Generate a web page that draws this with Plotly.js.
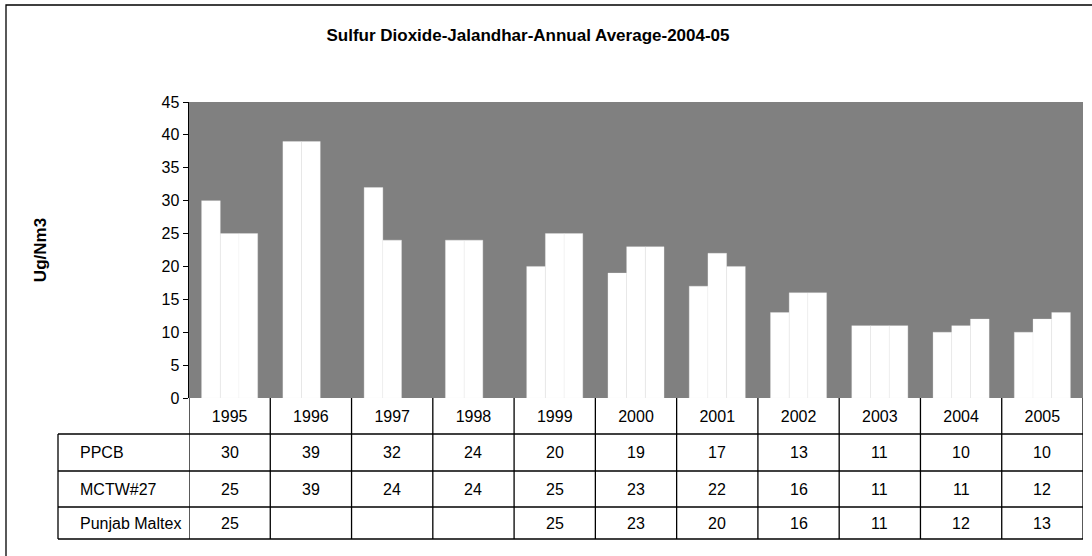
<!DOCTYPE html>
<html>
<head>
<meta charset="utf-8">
<script src="https://cdn.plot.ly/plotly-3.0.1.min.js"></script>
<style>html,body{margin:0;padding:0;background:#fff;}#chart{width:1092px;height:556px;}</style>
</head>
<body>
<div id="chart"></div>
<script>
const years = ["1995","1996","1997","1998","1999","2000","2001","2002","2003","2004","2005"];
const seriesNames = ["PPCB", "MCTW#27", "Punjab Maltex"];
const ppcb = [30, 39, 32, 24, 20, 19, 17, 13, 11, 10, 10];
const mctw = [25, 39, 24, 24, 25, 23, 22, 16, 11, 11, 12];
const punjab = [25, null, null, null, 25, 23, 20, 16, 11, 12, 13];
const seriesValues = [ppcb, mctw, punjab];

const FONT = "Arial, 'Liberation Sans', sans-serif";

const W = 1092, H = 556;
const mL = 189, mR = 9, mT = 102, mB = 158;
const plotW = W - mL - mR, plotH = H - mT - mB;
const axisY = H - mB;
function py(p) { return (axisY - p) / plotH; }
function px(p) { return (p - mL) / plotW; }
const rowLines = [434, 471, 507, 539];
const tableLeft = 58;

const traces = seriesNames.map((name, i) => ({
  type: 'bar',
  name: name,
  x: years,
  y: seriesValues[i],
  marker: {color: '#ffffff', line: {color: '#eeeeee', width: 0.3}},
  hoverinfo: 'x+y+name'
}));

const shapes = [];
for (let i = 0; i <= years.length; i++) {
  shapes.push({type: 'line', xref: 'x', yref: 'paper', x0: i - 0.5, x1: i - 0.5,
    y0: 0, y1: py(rowLines[rowLines.length - 1]), line: {color: '#000', width: 1.3}});
}
rowLines.forEach(r => {
  shapes.push({type: 'line', xref: 'paper', yref: 'paper', x0: px(tableLeft), x1: 1,
    y0: py(r), y1: py(r), line: {color: '#000', width: 1.3}});
});
shapes.push({type: 'line', xref: 'paper', yref: 'paper', x0: px(tableLeft), x1: px(tableLeft),
  y0: py(rowLines[0]), y1: py(rowLines[rowLines.length - 1]), line: {color: '#000', width: 1.3}});
shapes.push({type: 'rect', xref: 'paper', yref: 'paper', x0: px(6), x1: px(1100), y0: py(5), y1: py(570),
  line: {color: '#000', width: 1.3}, fillcolor: 'rgba(0,0,0,0)'});

const annotations = [];
seriesNames.forEach((name, r) => {
  const yc = py((rowLines[r] + rowLines[r + 1]) / 2);
  annotations.push({xref: 'paper', yref: 'paper', x: px(78), y: yc, xanchor: 'left', yanchor: 'middle',
    text: name, showarrow: false, font: {family: FONT, size: 16, color: '#000'}});
  seriesValues[r].forEach((v, c) => {
    if (v === null) return;
    annotations.push({xref: 'x', yref: 'paper', x: c, y: yc, xanchor: 'center', yanchor: 'middle',
      text: String(v), showarrow: false, font: {family: FONT, size: 16, color: '#000'}});
  });
});

const layout = {
  width: W, height: H,
  margin: {l: mL, r: mR, t: mT, b: mB, pad: 0},
  paper_bgcolor: '#ffffff',
  plot_bgcolor: '#808080',
  showlegend: false,
  barmode: 'group',
  bargap: 0.31,
  bargroupgap: 0,
  title: {text: '<b>Sulfur Dioxide-Jalandhar-Annual Average-2004-05</b>', x: 528 / W, xanchor: 'center',
    y: 1 - 35 / H, yanchor: 'middle', xref: 'container', yref: 'container',
    font: {family: FONT, size: 17, color: '#000'}},
  xaxis: {type: 'category', range: [-0.5, years.length - 0.5], showgrid: false, zeroline: false,
    showline: false, ticks: 'outside', ticklen: 4, tickcolor: 'rgba(0,0,0,0)',
    tickfont: {family: FONT, size: 16, color: '#000'}, fixedrange: true},
  yaxis: {range: [0, 45], dtick: 5, tick0: 0, showgrid: false, zeroline: false,
    showline: true, linecolor: '#000', linewidth: 1.5, ticks: 'outside', ticklen: 5, tickcolor: '#000',
    tickfont: {family: FONT, size: 16, color: '#000'},
    title: {text: '<b>Ug/Nm3</b>', standoff: 110, font: {family: FONT, size: 17, color: '#000'}},
    automargin: false, fixedrange: true},
  shapes: shapes,
  annotations: annotations
};

Plotly.newPlot('chart', traces, layout, {displayModeBar: false, staticPlot: true});
</script>
</body>
</html>
